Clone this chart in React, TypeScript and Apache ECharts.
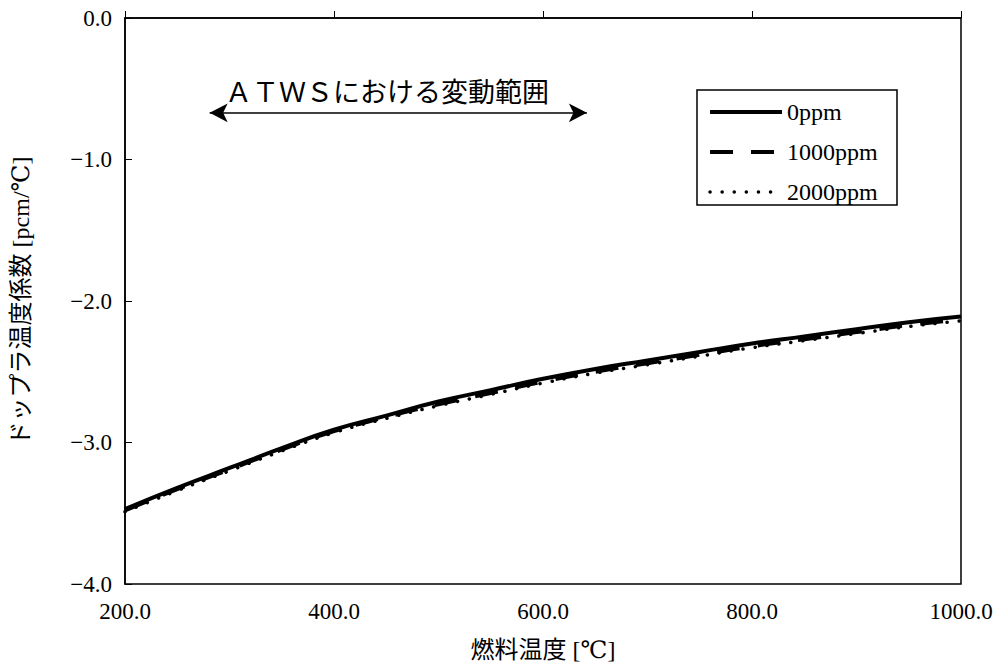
import React, { useEffect, useRef } from "react";
import * as echarts from "echarts";

const temps = [200, 250, 300, 350, 400, 450, 500, 550, 600, 650, 700, 750, 800, 850, 900, 950, 1000];
const ppm0 = [-3.47, -3.32, -3.18, -3.04, -2.91, -2.81, -2.71, -2.63, -2.55, -2.48, -2.42, -2.36, -2.30, -2.25, -2.20, -2.15, -2.11];
const ppm1000 = [-3.48, -3.33, -3.19, -3.05, -2.92, -2.82, -2.73, -2.65, -2.57, -2.50, -2.44, -2.38, -2.32, -2.27, -2.22, -2.17, -2.13];
const ppm2000 = [-3.49, -3.34, -3.20, -3.06, -2.93, -2.83, -2.74, -2.66, -2.58, -2.51, -2.45, -2.39, -2.33, -2.28, -2.23, -2.18, -2.14];
const seriesNames = ["0ppm", "1000ppm", "2000ppm"];
const rangeStart = 281;
const rangeEnd = 642;
const rangeLevel = -0.67;

const SERIF = "'Liberation Serif', 'DejaVu Serif', 'Noto Sans CJK JP', serif";

const styles = [
  { width: 4, type: "solid" as any },
  { width: 4, type: [23, 18] as any },
  { width: 3.5, type: [0.1, 12] as any, cap: "round" as any },
];

export default function App() {
  const ref = useRef<HTMLDivElement>(null);
  useEffect(() => {
    if (!ref.current) return;
    const chart = echarts.init(ref.current, undefined, { renderer: "svg" });
    const mk = (vals: number[]) => temps.map((t, i) => [t, vals[i]]);
    chart.setOption({
      animation: false,
      backgroundColor: "#fff",
      grid: {
        left: 125, right: 37, top: 18, bottom: 84,
        outerBoundsMode: "none",
        containLabel: false,
        show: true, borderColor: "#000", borderWidth: 1.5, backgroundColor: "transparent",
      },
      xAxis: {
        type: "value", min: 200, max: 1000, interval: 200,
        name: "燃料温度 [℃]", nameLocation: "middle", nameGap: 54,
        nameTextStyle: { fontFamily: SERIF, fontSize: 24, color: "#000" },
        axisLine: { show: true, lineStyle: { color: "#000", width: 1.5 } },
        axisTick: { show: true, inside: true, length: 7, lineStyle: { color: "#000" } },
        axisLabel: {
          fontFamily: SERIF, fontSize: 23, color: "#000", margin: 16,
          formatter: (v: number) => v.toFixed(1),
        },
        splitLine: { show: false },
      },
      yAxis: {
        type: "value", min: -4, max: 0, interval: 1,
        name: "ドップラ温度係数 [pcm/℃]", nameLocation: "middle", nameGap: 92, nameRotate: 90,
        nameTextStyle: { fontFamily: SERIF, fontSize: 24, color: "#000" },
        axisLine: { show: true, lineStyle: { color: "#000", width: 1.5 } },
        axisTick: { show: true, inside: true, length: 7, lineStyle: { color: "#000" } },
        axisLabel: {
          fontFamily: SERIF, fontSize: 23, color: "#000", margin: 13,
          formatter: (v: number) => (v < 0 ? "\u2212" + Math.abs(v).toFixed(1) : v.toFixed(1)),
        },
        splitLine: { show: false },
      },
      legend: {
        orient: "vertical", left: 697, top: 90,
        padding: [10, 10, 2, 11],
        borderWidth: 0, backgroundColor: "transparent",
        itemWidth: 72, itemHeight: 24, itemGap: 16,
        itemStyle: { opacity: 0 },
        textStyle: { fontFamily: SERIF, fontSize: 24, color: "#000" },
        data: seriesNames.map((n, i) => ({
          name: n,
          itemStyle: { opacity: 0 },
          lineStyle: { color: "#000", ...styles[i] },
        })),
        z: 10,
      },
      graphic: [
        {
          type: "rect", z: 5,
          shape: { x: 697, y: 90, width: 200, height: 115 },
          style: { fill: "#fff", stroke: "#000", lineWidth: 1.5 },
        },
        {
          type: "text", left: 225, top: 77,
          style: { text: "ＡＴＷＳにおける変動範囲", font: "27px 'Noto Sans CJK JP'", fill: "#000" },
        },
      ],
      series: seriesNames.map((n, i) => ({
        name: n, type: "line", data: mk([ppm0, ppm1000, ppm2000][i]), symbol: "none", smooth: true,
        lineStyle: { color: "#000", ...styles[i] }, itemStyle: { color: "#000" },
        z: 3 - i,
        ...(i === 0
          ? {
              markLine: {
                silent: true, symbol: ["arrow", "arrow"], symbolSize: [14, 18],
                label: { show: false },
                lineStyle: { color: "#000", width: 1.5, type: "solid" },
                data: [[{ coord: [rangeStart, rangeLevel] }, { coord: [rangeEnd, rangeLevel] }]],
              },
            }
          : {}),
      })),
    });
    return () => chart.dispose();
  }, []);
  return <div ref={ref} style={{ position: "absolute", left: 0, top: 0, width: 998, height: 668 }} />;
}
